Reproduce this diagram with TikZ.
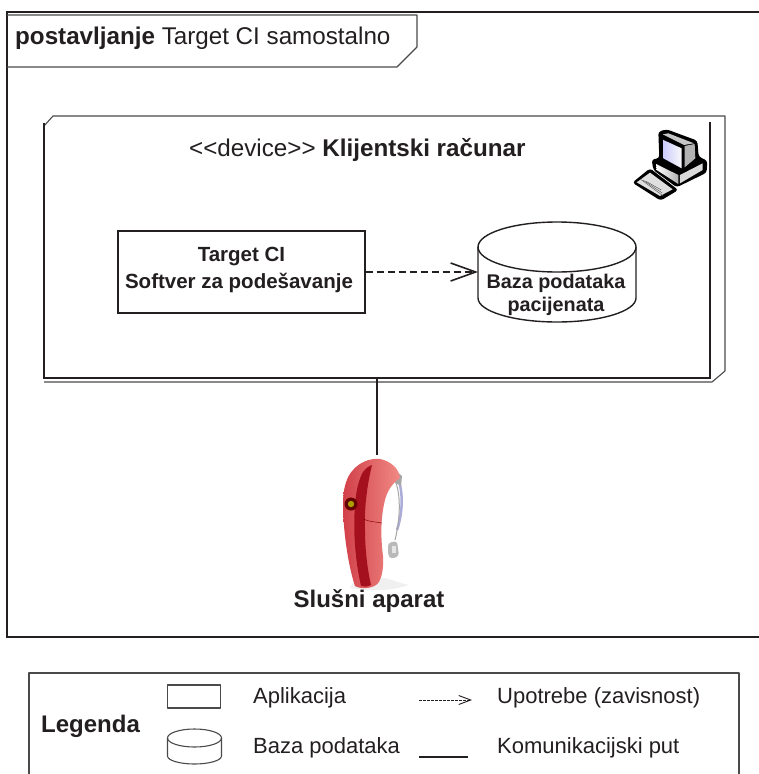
\documentclass[tikz,border=0pt]{standalone}
\usepackage{fontspec}
\setmainfont{Liberation Sans}
\usetikzlibrary{arrows.meta,calc}
\definecolor{ink}{HTML}{231F20}
\definecolor{soft}{HTML}{4A4A4A}
\definecolor{aidl}{HTML}{D2404A}
\definecolor{aidr}{HTML}{F08A84}
\definecolor{aidd}{HTML}{A5101F}
\newcommand{\fsz}[1]{\fontsize{#1}{#1}\selectfont}
\tikzset{
  thinline/.style={draw=soft,line width=1.1pt,line join=round},
  heavy/.style={draw=ink,line width=2.2pt},
  txt/.style={inner sep=0pt,anchor=west,text=ink,font=\fsz{22}},
  ctxt/.style={inner sep=0pt,align=center,text=ink,font=\fsz{20}\bfseries},
  usearrow/.style={draw=ink,line width=1.8pt,dash pattern=on 7pt off 4pt,-{Straight Barb[length=25pt,width=18pt,line width=1.6pt]}},
}
\begin{document}
\begin{tikzpicture}[x=1pt,y=-1pt]
\useasboundingbox (0,0) rectangle (759,774);
\fill[white] (0,0) rectangle (759,774);
% frame
\draw[draw=ink,line width=1.6pt] (759,12) -- (7,12) -- (7,637) -- (759,637);
% tab
\draw[thinline] (7,15) -- (417,15) -- (417,47) -- (397,67) -- (7,67);
\node[txt,font=\fsz{24.2}] (tabt) at (15,38) {\textbf{postavljanje} Target CI samostalno};
% device
\node[minimum width=666pt,minimum height=256pt,inner sep=0pt] (device) at (377,250) {};
\draw[thinline] (44,126) -- (53,116) -- (725,116) -- (725,371) -- (712,382) -- (44,382);
\draw[heavy] (44,123) -- (44,378) -- (710,378) -- (710,122);
\node[txt,font=\fsz{24.2}] (devt) at (189,150) {{<}{<}device{>}{>} \textbf{Klijentski računar}};
% computer icon
\begin{scope}[shift={(600,90)},x=0.3333pt,y=-0.3333pt]
\fill[black,rounded corners=3pt] (175,125) -- (200,118) -- (292,152) -- (296,200) -- (322,212) -- (320,248) -- (230,292) -- (160,240) -- (155,208) -- (178,205) -- cycle;
\fill[black,rounded corners=3pt] (97,278) -- (150,235) -- (235,300) -- (182,332) -- cycle;
\fill[gray!45] (188,133) -- (205,130) -- (282,160) -- (252,165) -- cycle;
\shade[left color=white!80!blue,right color=white!95!gray] (190,150) -- (245,175) -- (245,235) -- (190,205) -- cycle;
\fill[gray!60] (254,168) -- (284,162) -- (286,205) -- (254,232) -- cycle;
\shade[left color=white,right color=gray!60] (168,222) -- (235,255) -- (235,282) -- (170,240) -- cycle;
\fill[gray!30] (240,255) -- (308,220) -- (308,240) -- (240,280) -- cycle;
\fill[white!75!gray] (110,277) -- (150,248) -- (218,298) -- (180,318) -- cycle;
\foreach \k in {0,1,2}{\draw[gray!60!black,line width=0.4pt] ($(122,268)+(\k*8,\k*3)$) -- ($(190,318)+(\k*-3,\k*-9)$);}
\end{scope}
% application
\node[draw=ink,line width=1.4pt,minimum width=247pt,minimum height=82pt,inner sep=0pt] (app) at (241.5,272) {};
\node[ctxt,font=\fsz{20.5}\bfseries] (appa) at (241.5,257) {Target CI};
\node[ctxt,font=\fsz{20.5}\bfseries] (appb) at (239,283) {Softver za podešavanje};
% database
\coordinate (dbtip) at (478,272);
\draw[draw=ink,line width=1.4pt,fill=white] (478,247) -- (478,298) arc[start angle=180,end angle=360,x radius=79pt,y radius=24pt] -- (636,247);
\draw[draw=ink,line width=1.4pt,fill=white] (557,247) ellipse[x radius=79pt,y radius=25pt];
\node[ctxt,font=\fsz{19.8}\bfseries] (dba) at (556,283) {Baza podataka};
\node[ctxt,font=\fsz{19.8}\bfseries] (dbb) at (556,306) {pacijenata};
\draw[usearrow] (app.east |- dbtip) -- (dbtip);
% hearing aid
\coordinate (aidtop) at (377,455);
\draw[draw=ink,line width=2.2pt] (device.south) -- (aidtop);
\fill[gray!12] (350,588) .. controls (375,592) and (395,590) .. (408,585) -- (385,578) -- (355,580) -- cycle;
\draw[white!75!blue!70!gray,line width=2.5pt] (398,478) .. controls (404,495) and (402,515) .. (397,530);
\draw[gray!70,line width=1pt] (396,483) .. controls (401,497) and (400,520) .. (395,540);
\fill[gray!55,rounded corners=3pt] (388,543) -- (397,541) -- (399,556) -- (391,559) -- (388,555) -- cycle;
\fill[white!80!gray] (392,546) rectangle (396,553);
\fill[gray!70] (395,470) -- (402,476) -- (401,486) -- (394,482) -- cycle;
\shade[left color=aidl,right color=aidr]
  (355,586) .. controls (348,565) and (343,530) .. (343,503)
  .. controls (343,488) and (347,476) .. (353,470)
  .. controls (360,462) and (370,458) .. (380,459)
  .. controls (390,461) and (399,468) .. (400,478)
  .. controls (392,483) and (387,492) .. (385,500)
  .. controls (380,520) and (381,540) .. (383,556)
  .. controls (384,570) and (381,582) .. (376,585)
  .. controls (370,589) and (360,589) .. (355,586) -- cycle;
\fill[aidd] (363,472) .. controls (366,468) and (369,466) .. (372,465)
  .. controls (367,485) and (364,510) .. (365,530)
  .. controls (365,552) and (368,572) .. (371,585)
  .. controls (367,587) and (364,587) .. (361,586)
  .. controls (355,560) and (353,530) .. (355,505)
  .. controls (356,490) and (359,479) .. (363,472) -- cycle;
\draw[red!55!black,line width=0.5pt] (363,519) .. controls (370,522) and (377,522) .. (382,523);
\fill[red!40!black] (351,504) circle[radius=6.5pt];
\fill[olive!75!yellow] (351,504) circle[radius=3.2pt];
\node[ctxt,font=\fsz{24}\bfseries] (aidt) at (369,601) {Slušni aparat};
% legend
\draw[thinline] (29,774) -- (29,673) -- (739,673) -- (739,774);
\node[ctxt,font=\fsz{24}\bfseries,anchor=west] (lega) at (41,726) {Legenda};
\node[thinline,draw,minimum width=53pt,minimum height=23pt,inner sep=0pt] (lapp) at (194,696.5) {};
\draw[thinline] (167.5,738) -- (167.5,756) arc[start angle=180,end angle=360,x radius=27pt,y radius=8pt] -- (221.5,738);
\draw[thinline] (194.5,738) ellipse[x radius=27pt,y radius=9pt];
\node[txt] (l1) at (253,698) {Aplikacija};
\node[txt] (l2) at (253,748) {Baza podataka};
\node[txt] (l3) at (497,698) {Upotrebe (zavisnost)};
\node[txt] (l4) at (497,748) {Komunikacijski put};
\coordinate (la) at (419,700);
\coordinate (lb) at (472,700);
\coordinate (lc) at (419,757);
\coordinate (ld) at (468,757);
\draw[draw=ink,line width=1pt,dash pattern=on 3pt off 1pt,-{Straight Barb[length=12pt,width=9pt,line width=0.9pt]}] (la) -- (lb);
\draw[draw=ink,line width=1.2pt] (lc) -- (ld);
\end{tikzpicture}
\end{document}
